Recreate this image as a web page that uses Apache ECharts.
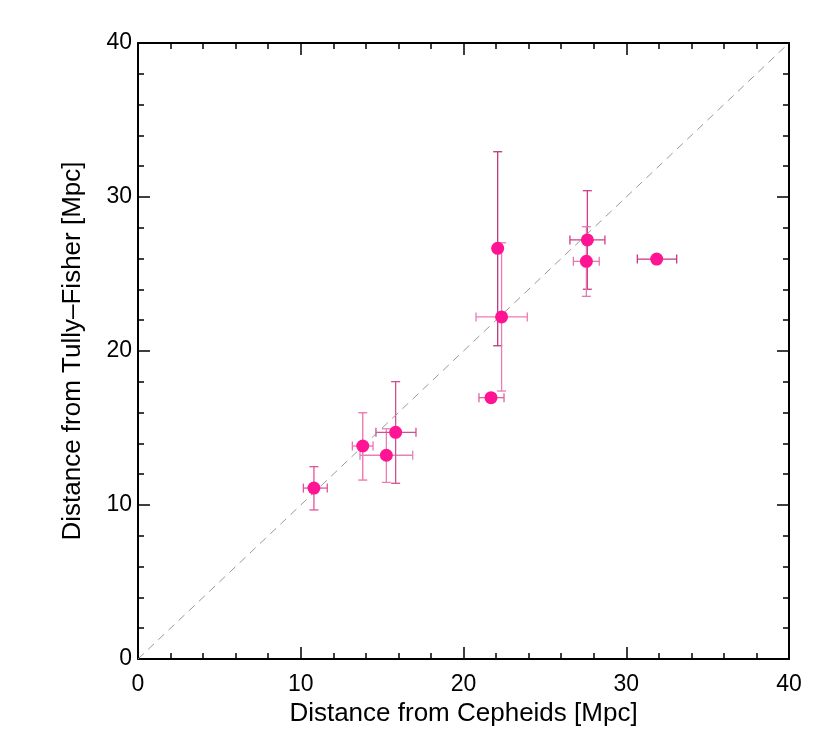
<!DOCTYPE html>
<html>
<head>
<meta charset="UTF-8">
<title>Tully-Fisher vs Cepheids</title>
<script src="https://cdn.jsdelivr.net/npm/echarts@6/dist/echarts.min.js"></script>
<style>
  html, body { margin: 0; padding: 0; background: #fff; }
  #main { width: 830px; height: 748px; }
</style>
</head>
<body>
<div id="main"></div>
<script type="text/javascript">
    // data
    var cepheid = [10.81, 13.81, 15.26, 15.83, 22.10, 22.34, 21.69, 27.61, 27.55, 31.87];
    var cephLow = [10.16, 13.17, 13.64, 14.62, 22.10, 20.77, 20.95, 26.54, 26.75, 30.68];
    var cephHigh = [11.63, 14.44, 16.88, 17.08, 22.10, 23.92, 22.49, 28.69, 28.34, 33.10];
    var tully = [11.10, 13.83, 13.23, 14.72, 26.67, 22.21, 16.97, 27.21, 25.82, 25.97];
    var tullyLow = [9.68, 11.62, 11.47, 11.41, 20.34, 17.40, 16.97, 24.01, 23.55, 25.97];
    var tullyHigh = [12.49, 15.99, 14.95, 18.01, 32.94, 27.03, 16.97, 30.41, 28.07, 25.97];
    var errColors = ['#e0559a', '#ee6fab', '#e880b8', '#d0508f', '#b83a7c', '#ec7ab5', '#e060a0', '#d03d88', '#e27ab2', '#c8337f'];
    var axisTicks = [0, 10, 20, 30, 40];

    var pts = [];
    var errs = [];
    for (var i = 0; i < cepheid.length; i++) {
        pts.push([cepheid[i], tully[i]]);
        errs.push([cepheid[i], tully[i], cephLow[i], cephHigh[i], tullyLow[i], tullyHigh[i], i]);
    }

    var myChart = echarts.init(document.getElementById('main'));

    function baseAxis(pos, showLabel) {
        return {
            type: 'value',
            position: pos,
            min: axisTicks[0],
            max: axisTicks[axisTicks.length - 1],
            interval: 10,
            axisLine: { show: true, onZero: false, lineStyle: { color: '#000', width: 2 } },
            axisTick: { show: true, inside: true, length: 12, lineStyle: { color: '#000', width: 1.5 } },
            minorTick: { show: true, splitNumber: 5, length: 6, lineStyle: { color: '#000', width: 1.5 } },
            splitLine: { show: false },
            axisLabel: {
                show: showLabel,
                color: '#000',
                fontSize: 23,
                fontFamily: 'Liberation Sans'
            }
        };
    }

    var xBottom = baseAxis('bottom', true);
    xBottom.name = 'Distance from Cepheids [Mpc]';
    xBottom.nameLocation = 'middle';
    xBottom.nameGap = 42;
    xBottom.nameTextStyle = { color: '#000', fontSize: 26, fontFamily: 'Liberation Sans' };
    xBottom.axisLabel.margin = 14;
    var xTop = baseAxis('top', false);

    var yLeft = baseAxis('left', true);
    yLeft.name = 'Distance from Tully\u2013Fisher [Mpc]';
    yLeft.nameLocation = 'middle';
    yLeft.nameGap = 52;
    yLeft.nameTextStyle = { color: '#000', fontSize: 26, fontFamily: 'Liberation Sans' };
    yLeft.axisLabel.margin = 6;
    var yRight = baseAxis('right', false);

    var option = {
        animation: false,
        backgroundColor: '#fff',
        grid: { left: 138, right: 41, top: 43, bottom: 89, containLabel: false },
        xAxis: [xBottom, xTop],
        yAxis: [yLeft, yRight],
        series: [
            {
                type: 'line',
                data: [[axisTicks[0], axisTicks[0]], [axisTicks[4], axisTicks[4]]],
                symbol: 'none',
                lineStyle: { color: '#999', width: 1, type: [8, 6] },
                silent: true
            },
            {
                type: 'custom',
                data: errs,
                renderItem: function (params, api) {
                    var c = api.coord([api.value(0), api.value(1)]);
                    var xl = api.coord([api.value(2), api.value(1)]);
                    var xh = api.coord([api.value(3), api.value(1)]);
                    var yl = api.coord([api.value(0), api.value(4)]);
                    var yh = api.coord([api.value(0), api.value(5)]);
                    var col = errColors[api.value(6)];
                    var cap = 4.5;
                    var st = { stroke: col, lineWidth: 1.3 };
                    var kids = [];
                    if (xh[0] - xl[0] > 1) {
                        kids.push({ type: 'line', shape: { x1: xl[0], y1: c[1], x2: xh[0], y2: c[1] }, style: st });
                        kids.push({ type: 'line', shape: { x1: xl[0], y1: c[1] - cap, x2: xl[0], y2: c[1] + cap }, style: st });
                        kids.push({ type: 'line', shape: { x1: xh[0], y1: c[1] - cap, x2: xh[0], y2: c[1] + cap }, style: st });
                    }
                    if (yl[1] - yh[1] > 1) {
                        kids.push({ type: 'line', shape: { x1: c[0], y1: yl[1], x2: c[0], y2: yh[1] }, style: st });
                        kids.push({ type: 'line', shape: { x1: c[0] - cap, y1: yl[1], x2: c[0] + cap, y2: yl[1] }, style: st });
                        kids.push({ type: 'line', shape: { x1: c[0] - cap, y1: yh[1], x2: c[0] + cap, y2: yh[1] }, style: st });
                    }
                    return { type: 'group', children: kids };
                },
                silent: true
            },
            {
                type: 'scatter',
                data: pts,
                symbol: 'circle',
                symbolSize: 13,
                itemStyle: { color: '#ff1493', opacity: 1 },
                z: 5
            }
        ]
    };
    myChart.setOption(option);
</script>
</body>
</html>
